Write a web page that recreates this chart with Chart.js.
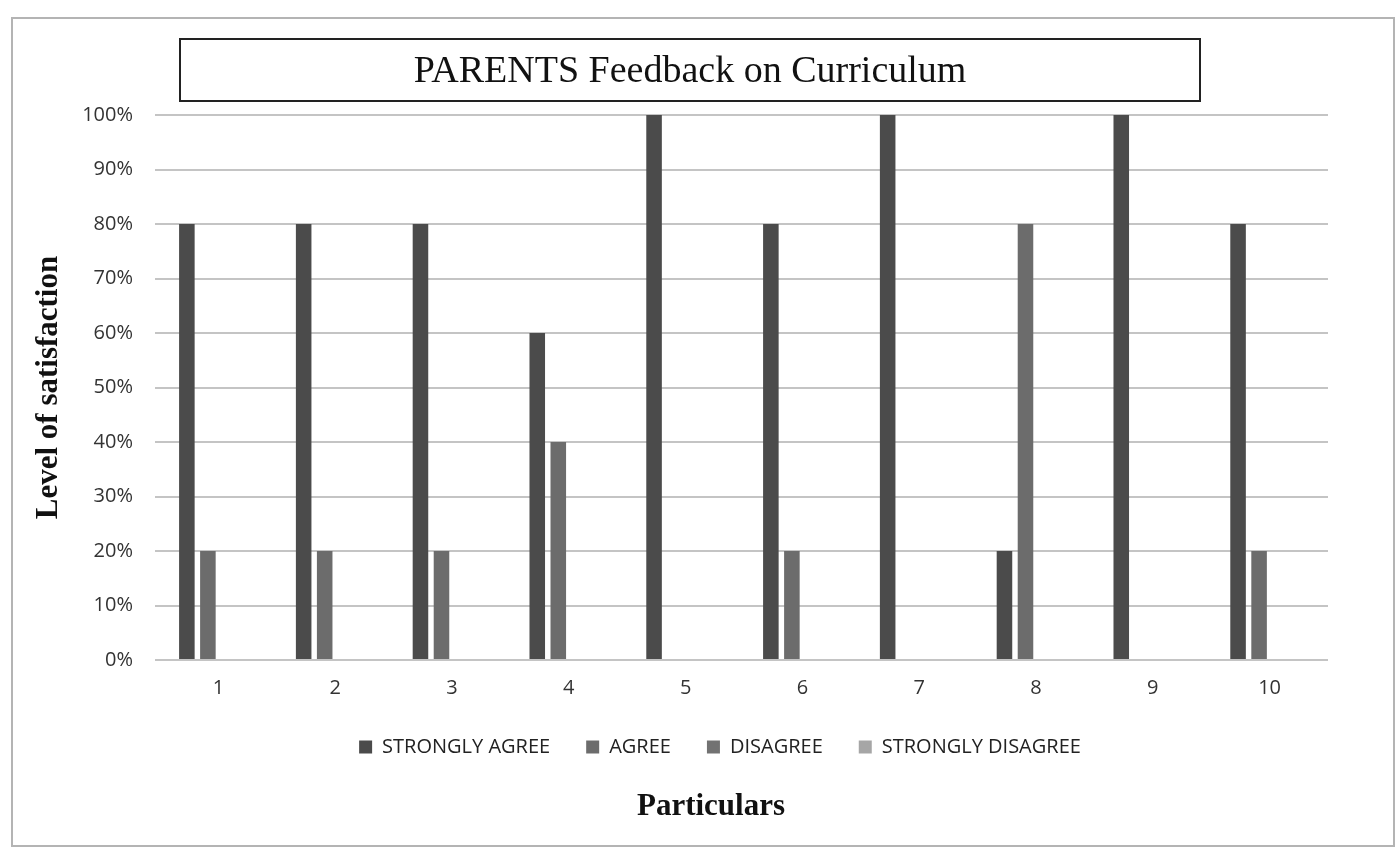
<!DOCTYPE html>
<html>
<head>
<meta charset="utf-8">
<script src="https://cdn.jsdelivr.net/npm/chart.js@4.4.1/dist/chart.umd.min.js"></script>
<style>
    body { margin: 0; background: #fff; }
    canvas { display: block; }
</style>
</head>
<body>
<canvas id="myChart" width="1400" height="852"></canvas>
<script>
const categories = ['1', '2', '3', '4', '5', '6', '7', '8', '9', '10'];
const stronglyAgree = [80, 80, 80, 60, 100, 80, 100, 20, 100, 80];
const agree = [20, 20, 20, 40, 0, 20, 0, 80, 0, 20];
const disagree = [0, 0, 0, 0, 0, 0, 0, 0, 0, 0];
const stronglyDisagree = [0, 0, 0, 0, 0, 0, 0, 0, 0, 0];
const seriesNames = ['STRONGLY AGREE', 'AGREE', 'DISAGREE', 'STRONGLY DISAGREE'];

// sheet border + box round the title, and nudging blocks like the scan
const decor = {
    id: 'decor',
    beforeDraw(chart) {
        const c = chart.ctx;
        c.save();
        c.fillStyle = '#fff';
        c.fillRect(0, 0, chart.width, chart.height);
        c.strokeStyle = '#b4b4b4';
        c.lineWidth = 2;
        c.strokeRect(12, 18, 1382, 828);
        c.restore();
    },
    afterLayout(chart) {
        const shift = (box, dx, dy) => {
            box.left += dx; box.right += dx;
            box.top += dy || 0; box.bottom += dy || 0;
        };
        shift(chart.titleBlock, 16);
        shift(chart.legend, 46, -7);
        chart.boxes.forEach(b => {
            if (b.options && b.options.text === 'Particulars') shift(b, 37);
        });
    },
    afterDraw(chart) {
        const t = chart.titleBlock;
        const mid = t.top + t.options.padding.top + 22.8;
        const cx = (t.left + t.right) / 2;
        const c = chart.ctx;
        c.save();
        c.strokeStyle = '#222';
        c.lineWidth = 2;
        c.strokeRect(cx - 510, mid - 33, 1020, 62);
        c.restore();
    }
};

const ctx = document.getElementById('myChart').getContext('2d');
const myChart = new Chart(ctx, {
    type: 'bar',
    data: {
        labels: categories,
        datasets: [
            { label: seriesNames[0], data: stronglyAgree, backgroundColor: '#4b4b4b' },
            { label: seriesNames[1], data: agree, backgroundColor: '#6c6c6c' },
            { label: seriesNames[2], data: disagree, backgroundColor: '#727272' },
            { label: seriesNames[3], data: stronglyDisagree, backgroundColor: '#a6a6a6' }
        ]
    },
    options: {
        responsive: false,
        animation: false,
        layout: { padding: { left: 20, right: 72, top: 0, bottom: 0 } },
        datasets: {
            bar: { categoryPercentage: 0.72, barPercentage: 0.74, borderWidth: 0 }
        },
        scales: {
            x: {
                grid: { display: false },
                border: { display: false },
                ticks: {
                    padding: 8,
                    color: '#333',
                    font: { family: 'Open Sans', size: 20 }
                }
            },
            y: {
                min: 0,
                max: 100,
                afterFit(scale) { scale.width = 140; },
                grid: { color: '#c4c4c4', lineWidth: 2, tickLength: 5, drawTicks: true },
                border: { display: false },
                ticks: {
                    stepSize: 10,
                    padding: 22,
                    color: '#333',
                    font: { family: 'Open Sans', size: 20 },
                    callback: (v) => v + '%'
                },
                title: {
                    display: true,
                    text: 'Level of satisfaction',
                    color: '#111',
                    padding: { top: 10, bottom: 0 },
                    font: { family: 'Liberation Serif', size: 31, weight: 'bold' }
                }
            }
        },
        plugins: {
            title: {
                display: true,
                text: 'PARENTS Feedback on Curriculum',
                color: '#111',
                padding: { top: 49.2, bottom: 20.2 },
                font: { family: 'Liberation Serif', size: 38, weight: 'normal', lineHeight: 1.2 }
            },
            subtitle: {
                display: true,
                position: 'bottom',
                text: 'Particulars',
                color: '#111',
                padding: { top: 14.4, bottom: 26.4 },
                font: { family: 'Liberation Serif', size: 31, weight: 'bold', lineHeight: 1.2 }
            },
            legend: {
                position: 'bottom',
                labels: {
                    boxWidth: 13,
                    boxHeight: 13,
                    padding: 36,
                    color: '#222',
                    font: { family: 'Open Sans', size: 20 }
                }
            },
            tooltip: { enabled: false }
        }
    },
    plugins: [decor]
});
</script>
</body>
</html>
